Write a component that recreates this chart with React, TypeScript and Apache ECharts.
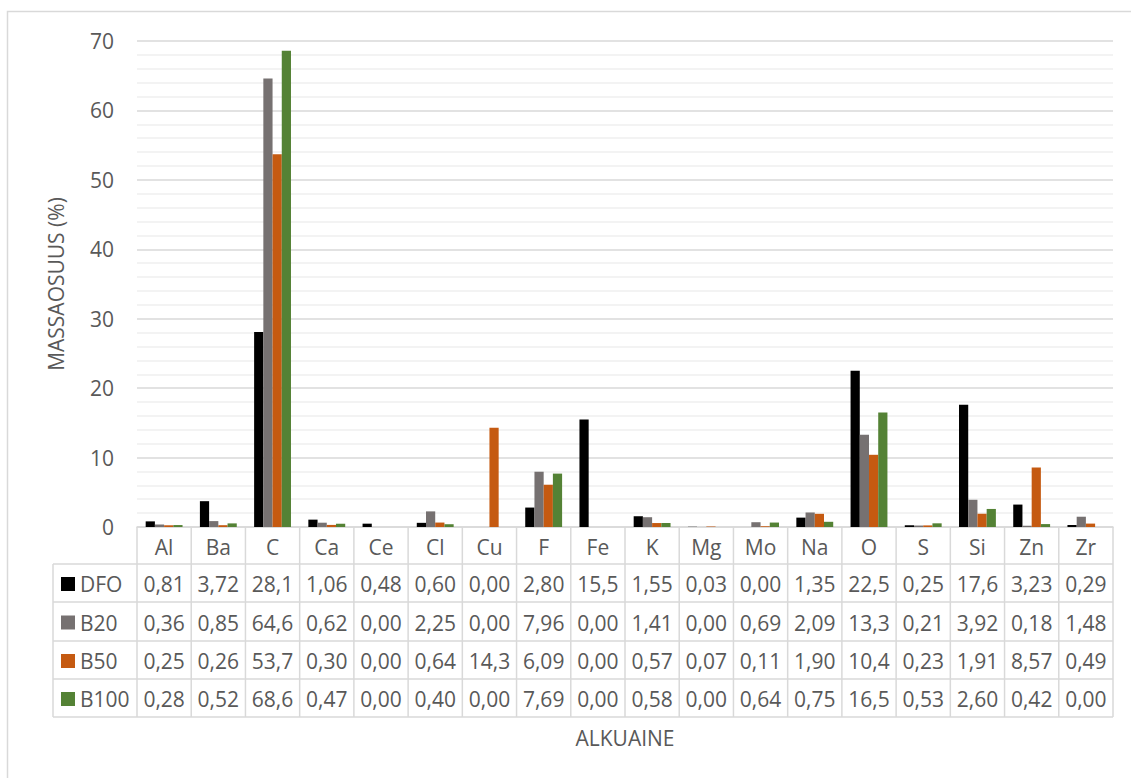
import React, { useEffect, useRef } from "react";
import * as echarts from "echarts";

const elements = ["Al", "Ba", "C", "Ca", "Ce", "Cl", "Cu", "F", "Fe", "K", "Mg", "Mo", "Na", "O", "S", "Si", "Zn", "Zr"];
const seriesNames = ["DFO", "B20", "B50", "B100"];
const dfo = [0.81, 3.72, 28.1, 1.06, 0.48, 0.6, 0.0, 2.8, 15.5, 1.55, 0.03, 0.0, 1.35, 22.5, 0.25, 17.6, 3.23, 0.29];
const b20 = [0.36, 0.85, 64.6, 0.62, 0.0, 2.25, 0.0, 7.96, 0.0, 1.41, 0.0, 0.69, 2.09, 13.3, 0.21, 3.92, 0.18, 1.48];
const b50 = [0.25, 0.26, 53.7, 0.3, 0.0, 0.64, 14.3, 6.09, 0.0, 0.57, 0.07, 0.11, 1.9, 10.4, 0.23, 1.91, 8.57, 0.49];
const b100 = [0.28, 0.52, 68.6, 0.47, 0.0, 0.4, 0.0, 7.69, 0.0, 0.58, 0.0, 0.64, 0.75, 16.5, 0.53, 2.6, 0.42, 0.0];
const yTicks = [0, 10, 20, 30, 40, 50, 60, 70];
const yAxisTitle = "MASSAOSUUS (%)";
const xAxisTitle = "ALKUAINE";

const colors = ["#000000", "#767171", "#C55A11", "#548235"];
const FONT = "'Open Sans', 'Noto Sans', sans-serif";
const TEXT = "#595959";
const LINE = "#D9D9D9";
const FS = 21;

const W = 1131;
const H = 778;
const PLOT_L = 137;
const PLOT_R = 1113;
const PLOT_T = 41;
const PLOT_B = 527;
const TABLE_L = 53;
const ROWS = [527, 564, 602, 641, 679, 717];

function fmt(v: number): string {
  const s = v >= 10 ? v.toFixed(1) : v.toFixed(2);
  return s.replace(".", ",");
}

export default function App() {
  const ref = useRef<HTMLDivElement>(null);
  useEffect(() => {
    if (!ref.current) return;
    const chart = echarts.init(ref.current, null, { renderer: "svg" });
    const allData = [dfo, b20, b50, b100];
    const n = elements.length;
    const colW = (PLOT_R - PLOT_L) / n;
    const graphics: any[] = [];

    graphics.push({
      type: "rect",
      shape: { x: 7.5, y: 11.5, width: 1140, height: 800 },
      style: { fill: "none", stroke: LINE, lineWidth: 1.5 },
      silent: true,
    });

    for (let r = 1; r < ROWS.length; r++) {
      graphics.push({
        type: "line",
        shape: { x1: TABLE_L, y1: ROWS[r], x2: PLOT_R, y2: ROWS[r] },
        style: { stroke: LINE, lineWidth: 1.5 },
        silent: true,
      });
    }
    for (let i = 0; i <= n; i++) {
      const x = PLOT_L + i * colW;
      graphics.push({
        type: "line",
        shape: { x1: x, y1: ROWS[0], x2: x, y2: ROWS[ROWS.length - 1] },
        style: { stroke: LINE, lineWidth: 1.5 },
        silent: true,
      });
    }
    graphics.push({
      type: "line",
      shape: { x1: TABLE_L, y1: ROWS[1], x2: TABLE_L, y2: ROWS[ROWS.length - 1] },
      style: { stroke: LINE, lineWidth: 1.5 },
      silent: true,
    });

    elements.forEach((el, i) => {
      graphics.push({
        type: "text",
        x: PLOT_L + (i + 0.5) * colW,
        y: (ROWS[0] + ROWS[1]) / 2 + 1,
        style: { text: el, fill: TEXT, font: `${FS}px ${FONT}`, align: "center", verticalAlign: "middle" },
        silent: true,
      });
    });

    seriesNames.forEach((name, s) => {
      const cy = (ROWS[s + 1] + ROWS[s + 2]) / 2 + 1;
      graphics.push({
        type: "rect",
        shape: { x: 61, y: cy - 7, width: 14, height: 14 },
        style: { fill: colors[s] },
        silent: true,
      });
      graphics.push({
        type: "text",
        x: 80,
        y: cy,
        style: { text: name, fill: TEXT, font: `${FS}px ${FONT}`, align: "left", verticalAlign: "middle" },
        silent: true,
      });
      allData[s].forEach((v, i) => {
        graphics.push({
          type: "text",
          x: PLOT_L + (i + 0.5) * colW,
          y: cy,
          style: { text: fmt(v), fill: TEXT, font: `${FS}px ${FONT}`, align: "center", verticalAlign: "middle" },
          silent: true,
        });
      });
    });

    graphics.push({
      type: "text",
      x: 56,
      y: (PLOT_T + PLOT_B) / 2,
      rotation: Math.PI / 2,
      style: { text: yAxisTitle, fill: TEXT, font: `${FS}px ${FONT}`, align: "center", verticalAlign: "middle" },
      silent: true,
    });
    graphics.push({
      type: "text",
      x: (PLOT_L + PLOT_R) / 2,
      y: 738,
      style: { text: xAxisTitle, fill: TEXT, font: `${FS}px ${FONT}`, align: "center", verticalAlign: "middle" },
      silent: true,
    });

    chart.setOption({
      animation: false,
      backgroundColor: "#ffffff",
      textStyle: { fontFamily: FONT },
      grid: { left: PLOT_L, right: W - PLOT_R, top: PLOT_T, bottom: H - PLOT_B, containLabel: false },
      xAxis: {
        type: "category",
        data: elements,
        axisLine: { show: true, lineStyle: { color: LINE, width: 1.5 } },
        axisTick: { show: false },
        axisLabel: { show: false },
        splitLine: { show: false },
      },
      yAxis: {
        type: "value",
        min: yTicks[0],
        max: yTicks[yTicks.length - 1],
        interval: yTicks[1] - yTicks[0],
        axisLine: { show: false },
        axisTick: { show: false },
        axisLabel: { color: TEXT, fontSize: FS, fontFamily: FONT, margin: 23 },
        splitLine: { show: true, lineStyle: { color: LINE, width: 1.5 } },
        minorTick: { show: false, splitNumber: 5 },
        minorSplitLine: { show: true, lineStyle: { color: "#EFEFEF", width: 1.5 } },
      },
      series: seriesNames.map((name, s) => ({
        name,
        type: "bar",
        data: allData[s],
        barGap: "0%",
        barCategoryGap: "32%",
        itemStyle: { color: colors[s] },
      })),
      graphic: graphics,
    });
    return () => chart.dispose();
  }, []);
  return (
    <div
      ref={ref}
      style={{ position: "absolute", left: 0, top: 0, width: W, height: H, background: "#fff" }}
    />
  );
}
